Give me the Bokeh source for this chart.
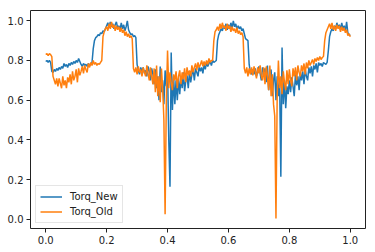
from bokeh.plotting import figure
from bokeh.models import Range1d, FixedTicker, NumeralTickFormatter, Legend, LegendItem, ColumnDataSource
from bokeh.embed import file_html
from bokeh.resources import INLINE

# x positions: sample grid 0.000 .. 1.000, step 0.004
x_step = 0.004
n_points = 251

torq_new = [
    0.795, 0.80, 0.79, 0.80, 0.79, 0.745, 0.74, 0.755, 0.745, 0.76,
    0.75, 0.765, 0.755, 0.77, 0.76, 0.785, 0.77, 0.78, 0.765, 0.785,
    0.775, 0.79, 0.78, 0.795, 0.785, 0.80, 0.79, 0.81, 0.795, 0.78,
    0.77, 0.785, 0.775, 0.78, 0.77, 0.785, 0.775, 0.78, 0.79, 0.86,
    0.90, 0.915, 0.92, 0.93, 0.925, 0.94, 0.935, 0.95, 0.945, 0.96,
    0.975, 0.99, 0.965, 0.995, 0.97, 0.985, 0.96, 0.98, 0.995, 0.965,
    0.975, 0.955, 0.99, 0.96, 0.98, 0.95, 0.97, 1.0, 0.955, 0.94,
    0.93, 0.935, 0.92, 0.925, 0.915, 0.78, 0.75, 0.73, 0.765, 0.745,
    0.765, 0.735, 0.75, 0.72, 0.77, 0.745, 0.70, 0.76, 0.73, 0.68,
    0.755, 0.66, 0.72, 0.60, 0.77, 0.64, 0.70, 0.58, 0.75, 0.67,
    0.75, 0.40, 0.163, 0.84, 0.55, 0.72, 0.58, 0.70, 0.60, 0.71,
    0.63, 0.715, 0.66, 0.74, 0.645, 0.70, 0.725, 0.66, 0.745, 0.69,
    0.73, 0.755, 0.70, 0.76, 0.74, 0.72, 0.77, 0.745, 0.765, 0.735,
    0.78, 0.755, 0.79, 0.77, 0.785, 0.795, 0.775, 0.80, 0.79, 0.795,
    0.80, 0.90, 0.93, 0.945, 0.96, 0.95, 0.975, 0.96, 0.985, 0.955,
    0.98, 0.96, 0.99, 0.965, 1.0, 0.97, 0.985, 0.955, 0.975, 0.96,
    0.97, 0.95, 0.96, 0.935, 0.91, 0.905, 0.90, 0.78, 0.74, 0.73,
    0.755, 0.73, 0.76, 0.72, 0.745, 0.77, 0.735, 0.70, 0.765, 0.74,
    0.76, 0.69, 0.775, 0.65, 0.73, 0.755, 0.62, 0.70, 0.74, 0.60,
    0.72, 0.62, 0.70, 0.214, 0.865, 0.58, 0.70, 0.56, 0.67, 0.63,
    0.70, 0.64, 0.715, 0.67, 0.62, 0.73, 0.675, 0.72, 0.65, 0.74,
    0.70, 0.745, 0.68, 0.755, 0.72, 0.70, 0.765, 0.735, 0.77, 0.72,
    0.775, 0.755, 0.785, 0.74, 0.79, 0.775, 0.785, 0.77, 0.79, 0.785,
    0.78, 0.79, 0.85, 0.92, 0.945, 0.96, 0.95, 0.975, 0.96, 0.99,
    0.965, 0.98, 0.955, 0.99, 0.96, 0.975, 0.95, 0.995, 0.94, 0.93,
    0.925,
]

torq_old = [
    0.83, 0.835, 0.825, 0.835, 0.83, 0.82, 0.72, 0.70, 0.68, 0.71,
    0.67, 0.71, 0.685, 0.66, 0.72, 0.675, 0.70, 0.66, 0.715, 0.69,
    0.73, 0.68, 0.745, 0.70, 0.72, 0.755, 0.69, 0.76, 0.725, 0.745,
    0.77, 0.735, 0.775, 0.755, 0.74, 0.785, 0.765, 0.79, 0.775, 0.80,
    0.78, 0.79, 0.775, 0.785, 0.78, 0.79, 0.80, 0.92, 0.945, 0.96,
    0.97, 0.95, 0.985, 0.96, 0.995, 0.965, 0.98, 0.95, 0.975, 0.955,
    0.97, 0.945, 0.965, 0.94, 0.955, 0.925, 0.945, 0.92, 0.935, 0.915,
    0.925, 0.91, 0.76, 0.74, 0.765, 0.73, 0.77, 0.74, 0.755, 0.72,
    0.765, 0.74, 0.72, 0.775, 0.735, 0.70, 0.765, 0.72, 0.68, 0.76,
    0.64, 0.775, 0.62, 0.72, 0.59, 0.76, 0.66, 0.50, 0.025, 0.60,
    0.85, 0.66, 0.74, 0.69, 0.65, 0.73, 0.70, 0.745, 0.66, 0.72,
    0.75, 0.68, 0.74, 0.705, 0.76, 0.69, 0.765, 0.725, 0.75, 0.72,
    0.775, 0.74, 0.765, 0.785, 0.75, 0.79, 0.765, 0.78, 0.80, 0.77,
    0.795, 0.775, 0.80, 0.78, 0.81, 0.79, 0.80, 0.80, 0.90, 0.945,
    0.955, 0.97, 0.95, 0.985, 0.96, 0.99, 0.965, 0.975, 0.95, 0.985,
    0.96, 0.975, 0.945, 0.97, 0.95, 0.96, 0.94, 0.965, 0.935, 0.95,
    0.93, 0.94, 0.92, 0.76, 0.735, 0.765, 0.72, 0.76, 0.73, 0.765,
    0.725, 0.77, 0.745, 0.71, 0.765, 0.735, 0.775, 0.72, 0.70, 0.765,
    0.68, 0.77, 0.72, 0.65, 0.775, 0.62, 0.73, 0.58, 0.52, 0.003,
    0.62, 0.80, 0.66, 0.72, 0.63, 0.745, 0.69, 0.65, 0.75, 0.68,
    0.755, 0.70, 0.67, 0.76, 0.72, 0.765, 0.70, 0.775, 0.74, 0.72,
    0.775, 0.745, 0.785, 0.73, 0.79, 0.76, 0.80, 0.775, 0.79, 0.805,
    0.78, 0.81, 0.795, 0.815, 0.80, 0.82, 0.805, 0.815, 0.82, 0.90,
    0.94, 0.955, 0.97, 0.985, 0.96, 0.99, 0.955, 0.975, 0.95, 0.98,
    0.96, 0.975, 0.945, 0.97, 0.95, 0.965, 0.94, 0.955, 0.925, 0.935,
    0.92,
]

tick_values = [0.0, 0.2, 0.4, 0.6, 0.8, 1.0]
series_names = ["Torq_New", "Torq_Old"]
series_colors = ["#1f77b4", "#ff7f0e"]

xs = [round(i * x_step, 4) for i in range(n_points)]
src = ColumnDataSource(dict(x=xs, new=torq_new, old=torq_old))

p = figure(width=375, height=252, output_backend="svg", toolbar_location=None,
           x_range=Range1d(-0.05, 1.05), y_range=Range1d(-0.047, 1.052),
           min_border_left=30, min_border_right=10, min_border_top=10, min_border_bottom=24)

r_new = p.line("x", "new", source=src, line_color=series_colors[0], line_width=1.5)
r_old = p.line("x", "old", source=src, line_color=series_colors[1], line_width=1.5)

p.xgrid.visible = False
p.ygrid.visible = False
p.outline_line_color = "#222222"
p.outline_line_width = 1
p.background_fill_color = "white"
p.border_fill_color = "white"

for ax in (p.xaxis[0], p.yaxis[0]):
    ax.ticker = FixedTicker(ticks=tick_values)
    ax.formatter = NumeralTickFormatter(format="0.0")
    ax.axis_line_color = None
    ax.major_tick_in = 0
    ax.major_tick_out = 4
    ax.major_tick_line_color = "#222222"
    ax.minor_tick_line_color = None
    ax.major_label_text_font = "DejaVu Sans"
    ax.major_label_text_font_size = "10px"
    ax.major_label_text_color = "#222222"
    ax.major_label_standoff = 3

legend = Legend(items=[LegendItem(label=series_names[0], renderers=[r_new]),
                       LegendItem(label=series_names[1], renderers=[r_old])],
                location="bottom_left")
legend.margin = 5
legend.padding = 4
legend.spacing = 2
legend.glyph_width = 22
legend.glyph_height = 13
legend.label_standoff = 8
legend.label_text_font = "DejaVu Sans"
legend.label_text_font_size = "10px"
legend.label_text_color = "#222222"
legend.border_line_color = "#cccccc"
legend.border_line_width = 1
legend.background_fill_alpha = 0.8
p.add_layout(legend)

open("out.html", "w").write(file_html(p, INLINE))
